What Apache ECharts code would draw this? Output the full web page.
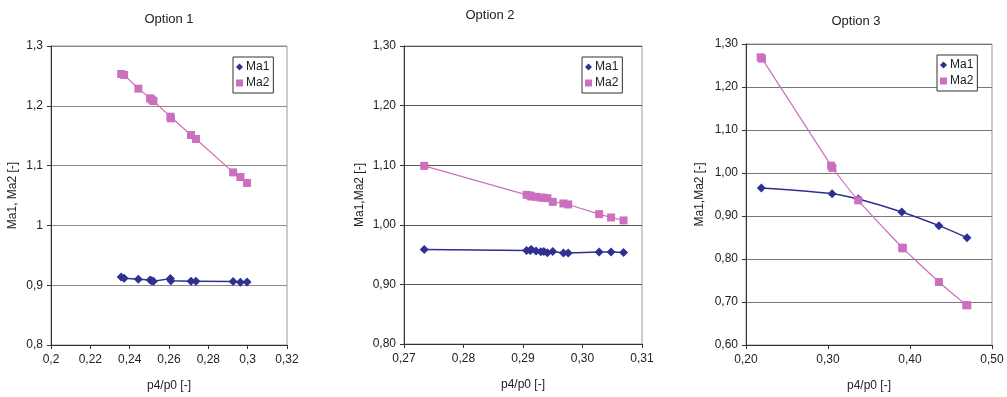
<!DOCTYPE html>
<html>
<head>
<meta charset="utf-8">
<script src="https://cdn.jsdelivr.net/npm/echarts@6/dist/echarts.min.js"></script>
<style>html,body{margin:0;padding:0;background:#fff}#c{width:1007px;height:397px}</style>
</head>
<body>
<div id="c"></div>
<script>
// ---- data ----
var titles = ['Option 1', 'Option 2', 'Option 3'];
var seriesNames = ['Ma1', 'Ma2'];

var opt1X   = [0.2357,0.2372,0.2444,0.2504,0.2512,0.2521,0.2607,0.2610,0.2712,0.2737,0.2926,0.2963,0.2997];
var opt1Ma1 = [0.9137,0.9115,0.9098,0.9087,0.9076,0.9065,0.9110,0.9076,0.9065,0.9065,0.9060,0.9048,0.9054];
var opt1Ma2 = [1.2532,1.2515,1.2287,1.2125,1.2103,1.2080,1.1818,1.1790,1.1512,1.1445,1.0887,1.0809,1.0709];

var opt2X   = [0.2734,0.2906,0.2912,0.2914,0.2922,0.2930,0.2935,0.2941,0.2950,0.2968,0.2976,0.3028,0.3048,0.3069];
var opt2Ma1 = [0.9585,0.9570,0.9570,0.9587,0.9559,0.9547,0.9553,0.9531,0.9553,0.9525,0.9525,0.9542,0.9542,0.9536];
var opt2Ma2 = [1.0989,1.0503,1.0492,1.0475,1.0469,1.0458,1.0453,1.0447,1.0385,1.0358,1.0341,1.0179,1.0123,1.0073];

var opt3XMa1 = [0.2187,0.3050,0.3370,0.3900,0.4353,0.4695];
var opt3Ma1  = [0.9651,0.9519,0.9395,0.9093,0.8775,0.8496];
var opt3XMa2 = [0.2179,0.2195,0.3038,0.3054,0.3368,0.3905,0.3913,0.4353,0.4686,0.4699];
var opt3Ma2  = [1.2690,1.2659,1.0171,1.0116,0.9364,0.8264,0.8248,0.7465,0.6930,0.6922];

// axis ranges / ticks
var xRanges = [[0.20,0.32,0.02],[0.27,0.31,0.01],[0.20,0.50,0.10]];
var yRanges = [[0.8,1.3,0.1],[0.8,1.3,0.1],[0.6,1.3,0.1]];
var yNames = ['Ma1, Ma2 [-]', 'Ma1,Ma2 [-]', 'Ma1,Ma2 [-]'];
var xName = 'p4/p0 [-]';
// ---------------

function pair(xs, ys){ return xs.map(function(x,i){ return [x, ys[i]]; }); }
function fmtGeneral(v){ return String(+v.toFixed(4)).replace('.', ','); }
function fmtFixed2(v){ return v.toFixed(2).replace('.', ','); }

var FONT = 'Liberation Sans, Arial, sans-serif';
var TXT = '#222';
var C1 = '#2e3192', C2 = '#cc6fbf';

var grids = [
  {left:51, top:46, width:236, height:299},
  {left:404, top:46, width:238, height:298},
  {left:746, top:44, width:246, height:301}
];
var gridLineColors = ['#8c8c8c', '#555', '#777'];
var yGaps = [32, 38, 40];
var fmts = [fmtGeneral, fmtFixed2, fmtFixed2];
var titlePos = [[164,8],[485,4],[851,10]];
var legendPos = [[233,57],[582,57],[937,55]];

var option = {
  animation:false,
  textStyle:{fontFamily:FONT},
  title:[], legend:[], grid:[], xAxis:[], yAxis:[], series:[]
};

for (var i=0;i<3;i++){
  option.title.push({text:titles[i], left:titlePos[i][0], top:titlePos[i][1], textAlign:'center',
    textStyle:{fontSize:13, fontWeight:'normal', color:TXT, fontFamily:FONT}});
  option.grid.push(Object.assign({show:true, borderColor:'#999', borderWidth:1, backgroundColor:'#fff'}, grids[i]));
  option.xAxis.push({type:'value', gridIndex:i, min:xRanges[i][0], max:xRanges[i][1], interval:xRanges[i][2],
    name:xName, nameLocation:'middle', nameGap:35,
    nameTextStyle:{fontSize:12, color:TXT, fontFamily:FONT},
    axisLine:{show:true, onZero:false, lineStyle:{color:'#333', width:1}},
    axisTick:{show:true, length:4, lineStyle:{color:'#333'}},
    axisLabel:{fontSize:12, color:TXT, margin:9, fontFamily:FONT, formatter:fmts[i], showMinLabel:true, showMaxLabel:true},
    splitLine:{show:false}});
  option.yAxis.push({type:'value', gridIndex:i, min:yRanges[i][0], max:yRanges[i][1], interval:yRanges[i][2],
    name:yNames[i], nameLocation:'middle', nameGap:yGaps[i], nameRotate:90,
    nameTextStyle:{fontSize:12, color:TXT, fontFamily:FONT},
    axisLine:{show:true, onZero:false, lineStyle:{color:'#333', width:1}},
    axisTick:{show:true, length:4, lineStyle:{color:'#333'}},
    axisLabel:{fontSize:12, color:TXT, margin:8, fontFamily:FONT, formatter:fmts[i], showMinLabel:true, showMaxLabel:true},
    splitLine:{show:true, lineStyle:{color:gridLineColors[i], width:1}}});
  option.legend.push({orient:'vertical', left:legendPos[i][0], top:legendPos[i][1],
    borderColor:'#333', borderWidth:1, padding:[4,4,4,3], itemGap:4, itemWidth:7, itemHeight:7,
    backgroundColor:'#fff',
    textStyle:{fontSize:12, color:TXT, fontFamily:FONT, padding:[0,0,0,-2]},
    data:[{name:seriesNames[0], icon:'diamond', itemStyle:{color:C1}},
          {name:seriesNames[1], icon:'rect', itemStyle:{color:C2}}]});
}

var seriesData = [
  [pair(opt1X,opt1Ma1), pair(opt1X,opt1Ma2), false],
  [pair(opt2X,opt2Ma1), pair(opt2X,opt2Ma2), false],
  [pair(opt3XMa1,opt3Ma1), pair(opt3XMa2,opt3Ma2), true]
];
for (var j=0;j<3;j++){
  option.series.push({name:seriesNames[0], type:'line', xAxisIndex:j, yAxisIndex:j, data:seriesData[j][0],
    smooth:seriesData[j][2] ? 0.3 : false,
    symbol:'diamond', symbolSize:9, itemStyle:{color:C1}, lineStyle:{color:C1, width:1.5}, z:3});
  option.series.push({name:seriesNames[1], type:'line', xAxisIndex:j, yAxisIndex:j, data:seriesData[j][1],
    smooth:seriesData[j][2] ? 0.3 : false,
    symbol:'rect', symbolSize:8, itemStyle:{color:C2}, lineStyle:{color:C2, width:1.2}, z:4});
}

var chart = echarts.init(document.getElementById('c'), null, {renderer:'canvas'});
chart.setOption(option);
</script>
</body>
</html>
